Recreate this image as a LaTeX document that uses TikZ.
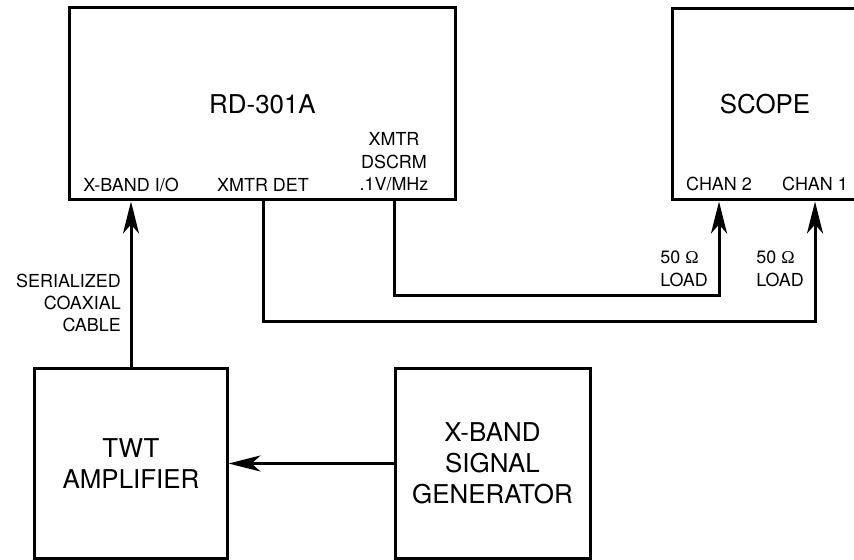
\documentclass[tikz,border=0pt]{standalone}
\usepackage{fontspec}
\setmainfont{TeX Gyre Heros}
\newfontfamily\ohmfont{Liberation Serif}
\usetikzlibrary{arrows.meta, positioning}

\tikzset{
	unit/.style={draw, line width=3bp, inner sep=0pt, align=center,
		font=\fontsize{26}{31}\selectfont},
	port/.style={inner sep=0pt, align=center, font=\fontsize{18}{22.5}\selectfont},
	feed/.style={line width=3bp, -{Stealth[length=32bp,width=16bp,inset=9bp]}},
}

\begin{document}
\begin{tikzpicture}[x=1bp, y=-1bp]
		
		% Frame
		\useasboundingbox (0,0) rectangle (854,560);
		\clip (0,0) rectangle (854,560);
		
		% Instruments
		\node[unit, minimum width=385bp, minimum height=192bp] (rd) at (262.5,104) {RD-301A};
		\node[unit, minimum width=186bp, minimum height=191bp] (scope) at (765,104.5) {SCOPE};
		\node[unit, minimum width=192bp, minimum height=189bp] (twt) at (131,463.5) {TWT\\AMPLIFIER};
		\node[unit, minimum width=195bp, minimum height=189bp] (siggen) at (492.5,463.5) {X-BAND\\SIGNAL\\GENERATOR};
		
		% Port labels
		\node[port] (xband) at (131,185) {X-BAND I/O};
		\node[port] (xmtrdet) at (263,185) {XMTR DET};
		\node[port] (dscrm) at (394,162) {XMTR\\DSCRM\\.1V/MHz};
		\node[port] (chantwo) at (719,184) {CHAN 2};
		\node[port] (chanone) at (815,184) {CHAN 1};
		
		% Cable and load notes
		\node[port, anchor=east, align=left] (loadtwo) at (708,269) {50 {\ohmfont Ω}\\LOAD};
		\node[port, anchor=east, align=left] (loadone) at (804,269) {50 {\ohmfont Ω}\\LOAD};
		\node[port, anchor=east, align=right] (cable) at (121,303) {SERIALIZED\\COAXIAL\\CABLE};
		
		% Bus heights
		\coordinate (dscbus) at (0,296);
		\coordinate (detbus) at (0,321);
		
		% Connections
		\draw[feed] (twt.north) -- (rd.south -| twt.north);
		\draw[feed] (siggen.west) -- (twt.east);
		\draw[feed] (rd.south -| dscrm) |- (dscbus -| chantwo) -- (scope.south -| chantwo);
		\draw[feed] (rd.south -| xmtrdet) |- (detbus -| chanone) -- (scope.south -| chanone);
		
	\end{tikzpicture}
\end{document}
